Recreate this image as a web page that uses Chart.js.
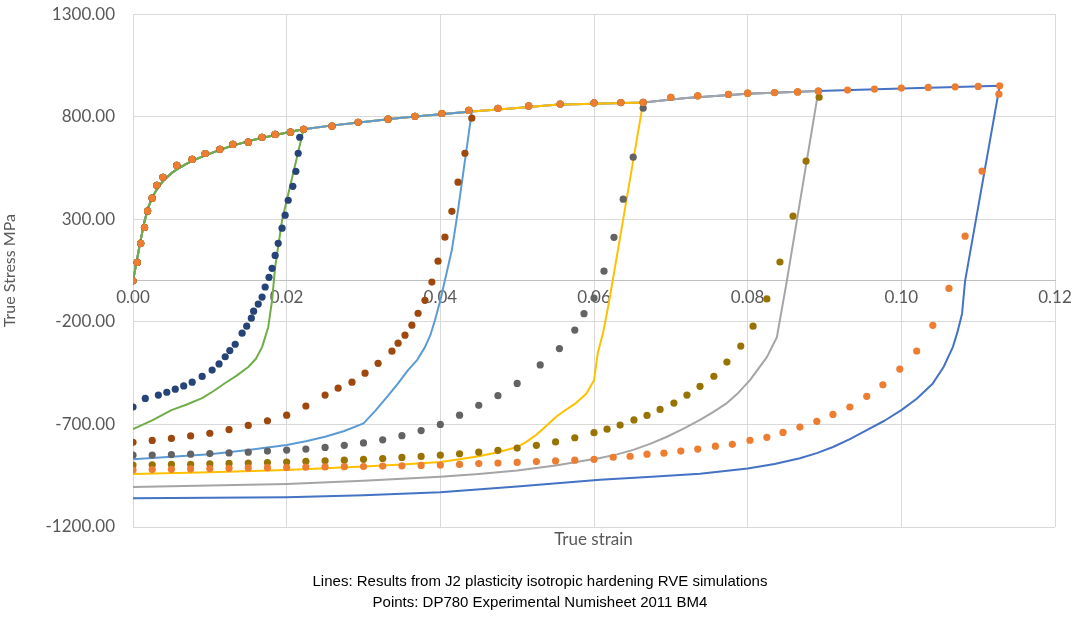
<!DOCTYPE html>
<html><head><meta charset="utf-8">
<script src="https://cdn.jsdelivr.net/npm/chart.js@4"></script>
<style>
html,body{margin:0;padding:0;background:#fff;overflow:hidden;}
#wrap{position:relative;width:1080px;height:626px;overflow:hidden;}
#c{position:absolute;left:0;top:-14px;}
#xt{position:absolute;left:0;width:1187px;top:528px;text-align:center;font:17px Lato,sans-serif;color:#595959;}
#cap{position:absolute;left:0;width:1080px;top:570px;text-align:center;font:15px "Liberation Sans",Arial,sans-serif;color:#000;line-height:21px;}
</style></head><body>
<div id="wrap"><canvas id="c" width="1080" height="640"></canvas>
<div id="xt">True strain</div>
<div id="cap">Lines: Results from J2 plasticity isotropic hardening RVE simulations<br>Points: DP780 Experimental Numisheet 2011 BM4</div></div>
<script>
// Experimental monotonic loading path (points)
const expLoadX=[0,0.00055,0.001,0.0015,0.0019,0.0025,0.0031,0.0039,0.0057,0.0077,0.0094,0.0113,0.013,0.015,0.0168,0.0185,0.0205,0.0222,0.0259,0.0293,0.0332,0.0367,0.0402,0.0437,0.0475,0.0515,0.0556,0.06,0.0635,0.0664,0.07,0.0735,0.0775,0.08,0.0835,0.0865,0.0892,0.093,0.0965,0.1,0.1035,0.107,0.11,0.1128];
const expLoadY=[0,90,183,260,340,403,466,505,563,592,621,641,665,676,700,714,725,739,754,773,788,802,816,831,841,853,862,868,869,870,895,902,909,915,918,921,925,930,935,940,943,946,948,951];
// Experimental reverse branches
const e1X=[0.0217,0.0215,0.0212,0.0208,0.0202,0.0198,0.0194,0.0189,0.0185,0.0181,0.0177,0.0172,0.0168,0.0163,0.0157,0.0154,0.0148,0.0142,0.0133,0.0126,0.012,0.0112,0.0103,0.009,0.0077,0.0066,0.0055,0.0044,0.0033,0.0016,0];
const e1Y=[700,622,534,461,393,320,257,183,124,61,17,-30,-79,-113,-148,-182,-221,-255,-309,-340,-370,-405,-435,-466,-494,-512,-528,-543,-557,-573,-615];
const e2X=[0.0441,0.0432,0.0423,0.0415,0.0406,0.0397,0.0389,0.038,0.0371,0.0363,0.0354,0.0345,0.0337,0.0319,0.0302,0.0285,0.0267,0.025,0.0225,0.02,0.0175,0.015,0.0125,0.01,0.0075,0.005,0.0025,0];
const e2Y=[793,622,481,339,213,96,-6,-95,-158,-216,-265,-304,-343,-402,-450,-494,-523,-557,-610,-655,-682,-705,-725,-743,-756,-768,-778,-787];
const e3X=[0.0664,0.0651,0.0638,0.0626,0.0613,0.06,0.0587,0.0575,0.0555,0.053,0.05,0.0475,0.045,0.0425,0.04,0.0375,0.035,0.0325,0.03,0.0275,0.025,0.0225,0.02,0.0175,0.015,0.0125,0.01,0.0075,0.005,0.0025,0];
const e3Y=[842,603,398,212,47,-84,-160,-240,-330,-410,-500,-560,-607,-655,-700,-730,-755,-775,-790,-802,-812,-820,-825,-830,-835,-839,-842,-845,-847,-849,-850];
const e4X=[0.0893,0.0876,0.0859,0.0842,0.0825,0.0807,0.0791,0.0773,0.0756,0.0738,0.0721,0.0704,0.0686,0.0669,0.0652,0.0634,0.0617,0.06,0.0575,0.055,0.0525,0.05,0.0475,0.045,0.0425,0.04,0.0375,0.035,0.0325,0.03,0.0275,0.025,0.0225,0.02,0.0175,0.015,0.0125,0.01,0.0075,0.005,0.0025,0];
const e4Y=[895,584,316,92,-88,-221,-318,-396,-465,-514,-557,-596,-627,-656,-678,-703,-723,-740,-765,-785,-802,-815,-826,-835,-843,-850,-856,-861,-866,-870,-874,-877,-880,-883,-886,-888,-890,-892,-894,-895,-897,-898];
const e5X=[0.1127,0.1105,0.1083,0.1062,0.1041,0.102,0.0998,0.0976,0.0955,0.0933,0.0911,0.089,0.0868,0.0846,0.0825,0.0803,0.078,0.0758,0.0735,0.0713,0.0691,0.0669,0.0647,0.0625,0.06,0.0575,0.055,0.0525,0.05,0.0475,0.045,0.0425,0.04,0.0375,0.035,0.0325,0.03,0.0275,0.025,0.0225,0.02,0.0175,0.015,0.0125,0.01,0.0075,0.005,0.0025,0];
const e5Y=[910,535,218,-37,-217,-342,-430,-507,-563,-615,-651,-685,-713,-739,-763,-777,-797,-806,-820,-830,-840,-845,-855,-860,-870,-874,-878,-881,-885,-888,-891,-895,-898,-900,-902,-903,-905,-906,-907,-908,-910,-911,-912,-914,-915,-917,-919,-920,-922];
const expPeaks=[0.0222,0.0441,0.0664,0.0892,0.1128];
// Simulation loading path (lines)
const simLoadX=[0,0.0005,0.001,0.0015,0.002,0.0025,0.003,0.0035,0.004,0.005,0.006,0.007,0.008,0.009,0.01,0.0115,0.013,0.0145,0.016,0.0175,0.019,0.0205,0.0222,0.026,0.03,0.035,0.04,0.0441,0.05,0.055,0.06,0.0664,0.072,0.08,0.0892,0.1,0.106,0.1128];
const simLoadY=[0,100,200,290,360,405,440,468,490,525,550,572,590,606,620,641,660,675,690,703,715,727,739,758,775,795,812,826,843,858,864,870,892,912,925,938,944,951];
const s1X=[0.0194,0.0185,0.0181,0.0176,0.0168,0.016,0.015,0.0135,0.012,0.0105,0.009,0.007,0.005,0.0025,0];
const s1Y=[295,67,-95,-226,-323,-380,-420,-462,-498,-537,-572,-603,-630,-680,-723];
const s2X=[0.0423,0.0415,0.04,0.0393,0.0387,0.038,0.037,0.0358,0.0345,0.0332,0.0315,0.03,0.0275,0.025,0.0225,0.02,0.015,0.01,0.005,0];
const s2Y=[344,150,-95,-192,-265,-323,-385,-435,-500,-560,-635,-695,-732,-760,-782,-800,-825,-845,-858,-870];
const s3X=[0.062,0.0612,0.0605,0.06,0.059,0.0575,0.0562,0.055,0.0537,0.0525,0.0512,0.05,0.0475,0.045,0.0425,0.04,0.035,0.03,0.025,0.02,0.01,0];
const s3Y=[-94,-250,-350,-485,-550,-600,-632,-665,-710,-750,-785,-810,-836,-855,-870,-883,-895,-905,-914,-922,-933,-942];
const s4X=[0.0851,0.0838,0.0825,0.0803,0.0788,0.0773,0.0755,0.0738,0.0716,0.0695,0.0673,0.0651,0.063,0.0608,0.055,0.05,0.045,0.04,0.03,0.02,0.01,0];
const s4Y=[0,-275,-372,-484,-545,-596,-640,-678,-722,-760,-795,-824,-846,-864,-900,-925,-942,-955,-975,-990,-998,-1005];
const s5X=[0.1083,0.1079,0.1073,0.1067,0.1055,0.1041,0.102,0.1,0.0978,0.0955,0.0933,0.0911,0.089,0.0868,0.0835,0.08,0.0738,0.0675,0.0608,0.05,0.04,0.03,0.02,0.01,0];
const s5Y=[0,-160,-250,-323,-420,-500,-575,-630,-682,-728,-772,-810,-840,-865,-893,-915,-940,-955,-970,-1003,-1030,-1045,-1055,-1058,-1060];
const xTicks=[0,0.02,0.04,0.06,0.08,0.10,0.12];
const yTicks=[-1200,-700,-200,300,800,1300];

const ptColors=['#264478','#9E480E','#636363','#997300','#ED7D31'];
const lnColors=['#70AD47','#5B9BD5','#FFC000','#A5A5A5','#4472C4'];
const expX=[e1X,e2X,e3X,e4X,e5X], expY=[e1Y,e2Y,e3Y,e4Y,e5Y];
const simX=[s1X,s2X,s3X,s4X,s5X], simY=[s1Y,s2Y,s3Y,s4Y,s5Y];
function build(lx,ly,peak,ux,uy){
  const d=[];
  lx.forEach((x,i)=>{if(x<=peak+1e-9)d.push({x:x,y:ly[i]});});
  ux.forEach((x,i)=>d.push({x:x,y:uy[i]}));
  return d;
}
const datasets=[];
for(let i=0;i<5;i++){
  datasets.push({type:'line',data:build(simLoadX,simLoadY,expPeaks[i],simX[i],simY[i]),borderColor:lnColors[i],borderWidth:2,pointRadius:0,fill:false,tension:0,borderJoinStyle:'round',order:10});
}
for(let i=0;i<5;i++){
  datasets.push({type:'scatter',data:build(expLoadX,expLoadY,expPeaks[i],expX[i],expY[i]),backgroundColor:ptColors[i],borderColor:ptColors[i],pointRadius:3.6,pointBorderWidth:0,showLine:false,order:5-i});
}
new Chart(document.getElementById('c'),{
  data:{datasets:datasets},
  options:{responsive:false,animation:false,
    layout:{padding:{top:6,right:25,bottom:99,left:0}},
    plugins:{legend:{display:false},tooltip:{enabled:false}},
    scales:{
      x:{type:'linear',min:0,max:0.12,position:{y:0},
        afterBuildTicks:s=>{s.ticks=xTicks.map(v=>({value:v}));},
        ticks:{callback:v=>v.toFixed(2),color:'#595959',font:{family:'Lato',size:17},padding:6},
        grid:{color:'#d9d9d9',drawTicks:false},border:{color:'#bfbfbf'}},
      y:{type:'linear',min:-1200,max:1300,
        afterBuildTicks:s=>{s.ticks=yTicks.map(v=>({value:v}));},
        afterFit:s=>{s.width=133;},
        ticks:{callback:v=>v.toFixed(2),color:'#595959',font:{family:'Lato',size:17},padding:18},
        grid:{color:'#d9d9d9',drawTicks:false},border:{display:false},
        title:{display:true,text:'True Stress MPa',color:'#595959',font:{family:'Lato',size:16},padding:0}}
    }}
});
</script></body></html>
